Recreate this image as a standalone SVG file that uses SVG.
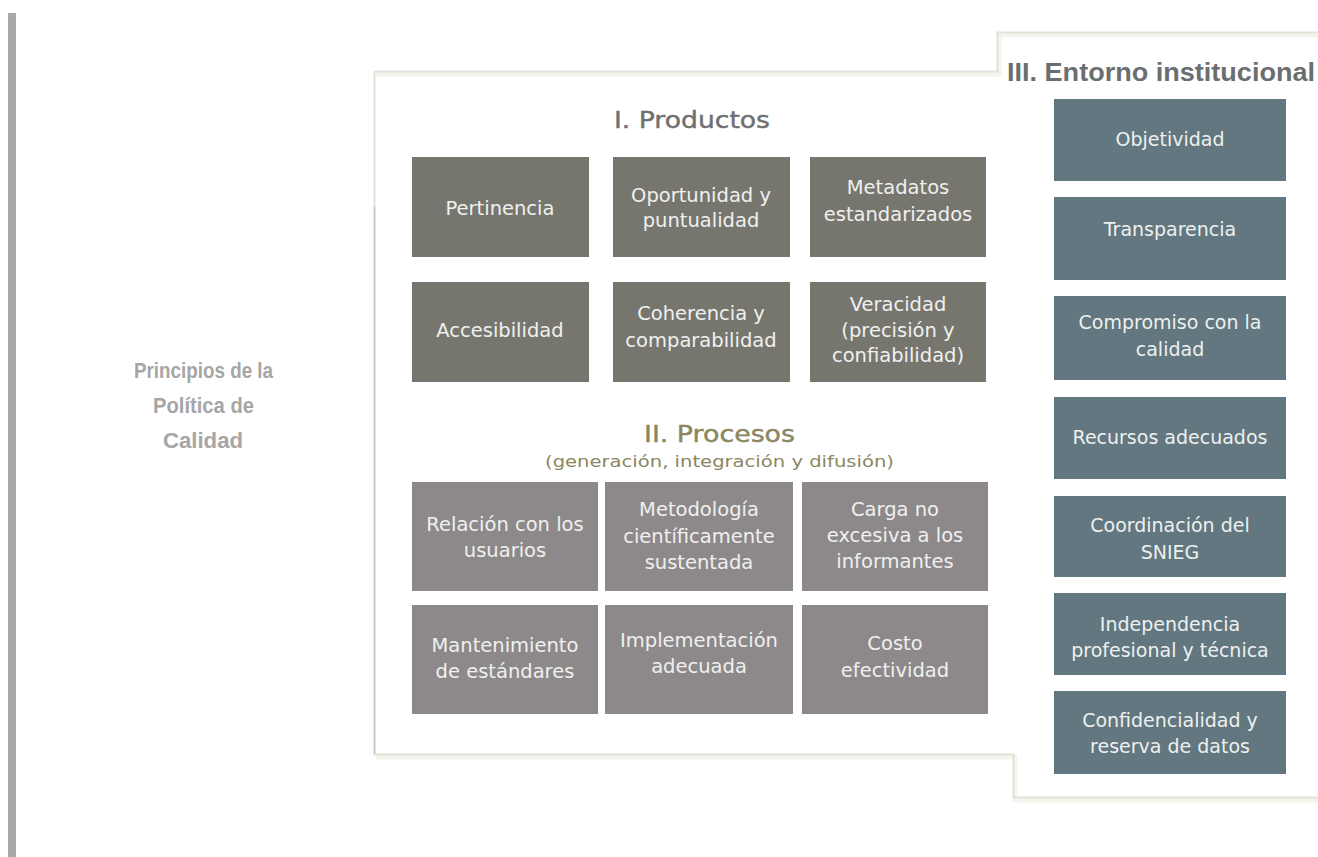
<svg xmlns="http://www.w3.org/2000/svg" width="1318" height="857" viewBox="0 0 1318 857">
<style>
.bp{fill:#76766f}
.bc{fill:#8d898a}
.bi{fill:#62777f}
.t{font-family:"DejaVu Sans",sans-serif;font-size:19.5px;fill:#f0f0ee;text-anchor:middle}
.ti{font-family:"DejaVu Sans",sans-serif;font-size:19px;fill:#eef0f0;text-anchor:middle}
.hd{font-family:"DejaVu Sans",sans-serif;text-anchor:start;stroke-width:0.4}
.pr{font-family:"Liberation Sans",Arial,sans-serif;font-weight:bold;font-size:22px;fill:#a6a6a6}
</style>
<rect width="1318" height="857" fill="#ffffff"/>
<rect x="8" y="13" width="8" height="844" fill="#a9a9a9"/>
<g id="frame" fill="none">
<path d="M376,74 H999 V35 H1318 M1318,800 H1015 V757 H376" stroke="#f4f4ec" stroke-width="5"/>
<path d="M374.5,71.5 H997.5 V32.5 H1318 M1318,797.5 H1013.5 V754.5 H374.5 V71.5" stroke="#e2e2da" stroke-width="2"/>
<line x1="374.5" y1="207" x2="374.5" y2="754" stroke="#c6c6c2" stroke-width="1.5"/>
</g>
<g id="title-principios">
<text class="pr" x="134" y="378" textLength="139" lengthAdjust="spacingAndGlyphs">Principios de la</text>
<text class="pr" x="153" y="413" textLength="101" lengthAdjust="spacingAndGlyphs">Política de</text>
<text class="pr" x="163" y="448" textLength="80" lengthAdjust="spacingAndGlyphs">Calidad</text>
</g>
<g id="title-productos"><text class="hd" x="614" y="128" font-size="23" fill="#6f6f6f" stroke="#6f6f6f" textLength="156" lengthAdjust="spacingAndGlyphs">I. Productos</text></g>
<g id="title-procesos"><text class="hd" x="644" y="442" font-size="23" fill="#8b8660" stroke="#8b8660" textLength="151" lengthAdjust="spacingAndGlyphs">II. Procesos</text>
<text class="hd" x="545" y="467" font-size="16" fill="#8b8660" textLength="349" lengthAdjust="spacingAndGlyphs">(generación, integración y difusión)</text></g>
<g id="title-entorno"><text x="1007" y="81" font-family="Liberation Sans, Arial, sans-serif" font-weight="bold" font-size="26" fill="#6b6e70" textLength="308" lengthAdjust="spacingAndGlyphs">III. Entorno institucional</text></g>

<g id="p-pertinencia"><rect class="bp" x="412" y="157" width="177" height="100"/><text class="t" x="500" y="215">Pertinencia</text></g>
<g id="p-oportunidad"><rect class="bp" x="613" y="157" width="177" height="100"/><text class="t" x="701" y="202">Oportunidad y</text><text class="t" x="701" y="227">puntualidad</text></g>
<g id="p-metadatos"><rect class="bp" x="810" y="157" width="176" height="100"/><text class="t" x="898" y="194">Metadatos</text><text class="t" x="898" y="221">estandarizados</text></g>
<g id="p-accesibilidad"><rect class="bp" x="412" y="282" width="177" height="100"/><text class="t" x="500" y="337">Accesibilidad</text></g>
<g id="p-coherencia"><rect class="bp" x="613" y="282" width="177" height="100"/><text class="t" x="701" y="320">Coherencia y</text><text class="t" x="701" y="347">comparabilidad</text></g>
<g id="p-veracidad"><rect class="bp" x="810" y="282" width="176" height="100"/><text class="t" x="898" y="311">Veracidad</text><text class="t" x="898" y="337">(precisión y</text><text class="t" x="898" y="362">confiabilidad)</text></g>

<g id="c-relacion"><rect class="bc" x="412" y="482" width="186" height="109"/><text class="t" x="505" y="531">Relación con los</text><text class="t" x="505" y="557">usuarios</text></g>
<g id="c-metodologia"><rect class="bc" x="605" y="482" width="188" height="109"/><text class="t" x="699" y="516">Metodología</text><text class="t" x="699" y="543">científicamente</text><text class="t" x="699" y="569">sustentada</text></g>
<g id="c-carga"><rect class="bc" x="802" y="482" width="186" height="109"/><text class="t" x="895" y="516">Carga no</text><text class="t" x="895" y="542">excesiva a los</text><text class="t" x="895" y="568">informantes</text></g>
<g id="c-mantenimiento"><rect class="bc" x="412" y="605" width="186" height="109"/><text class="t" x="505" y="652">Mantenimiento</text><text class="t" x="505" y="678">de estándares</text></g>
<g id="c-implementacion"><rect class="bc" x="605" y="605" width="188" height="109"/><text class="t" x="699" y="647">Implementación</text><text class="t" x="699" y="673">adecuada</text></g>
<g id="c-costo"><rect class="bc" x="802" y="605" width="186" height="109"/><text class="t" x="895" y="650">Costo</text><text class="t" x="895" y="677">efectividad</text></g>

<g id="i-objetividad"><rect class="bi" x="1054" y="99" width="232" height="82"/><text class="ti" x="1170" y="146">Objetividad</text></g>
<g id="i-transparencia"><rect class="bi" x="1054" y="197" width="232" height="83"/><text class="ti" x="1170" y="236">Transparencia</text></g>
<g id="i-compromiso"><rect class="bi" x="1054" y="296" width="232" height="84"/><text class="ti" x="1170" y="329">Compromiso con la</text><text class="ti" x="1170" y="356">calidad</text></g>
<g id="i-recursos"><rect class="bi" x="1054" y="397" width="232" height="82"/><text class="ti" x="1170" y="444">Recursos adecuados</text></g>
<g id="i-coordinacion"><rect class="bi" x="1054" y="496" width="232" height="81"/><text class="ti" x="1170" y="532">Coordinación del</text><text class="ti" x="1170" y="559">SNIEG</text></g>
<g id="i-independencia"><rect class="bi" x="1054" y="593" width="232" height="82"/><text class="ti" x="1170" y="631">Independencia</text><text class="ti" x="1170" y="657">profesional y técnica</text></g>
<g id="i-confidencialidad"><rect class="bi" x="1054" y="691" width="232" height="83"/><text class="ti" x="1170" y="727">Confidencialidad y</text><text class="ti" x="1170" y="753">reserva de datos</text></g>
<g id="connectors"></g>
</svg>
